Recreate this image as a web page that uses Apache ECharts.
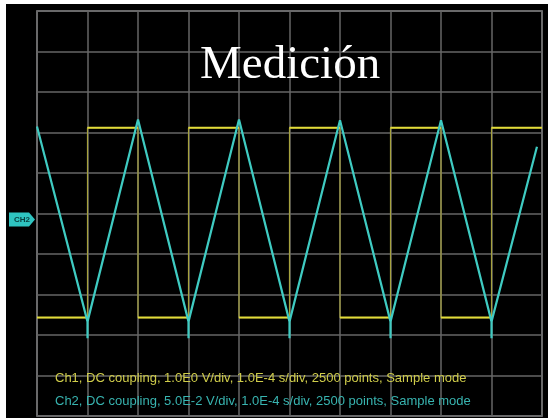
<!DOCTYPE html>
<html>
<head>
<meta charset="utf-8">
<script src="https://cdn.jsdelivr.net/npm/echarts@6/dist/echarts.min.js"></script>
<style>
  html, body { margin: 0; padding: 0; background: #fff; }
  #wrap { position: relative; width: 548px; height: 418px; overflow: hidden; }
  #chart { position: absolute; left: 6px; top: 4px; width: 542px; height: 414px; }
</style>
</head>
<body>
<div id="wrap"><div id="chart"></div></div>
<script>
// screen divisions (10 x 10)
const xDivs = [0, 10]
const yDivs = [-5, 5]

// Ch1: square wave, in divisions
const ch1Times = [0, 1, 1, 2, 2, 3, 3, 4, 4, 5, 5, 6, 6, 7, 7, 8, 8, 9, 9, 10]
const ch1Levels = [-2.57, -2.57, 2.12, 2.12, -2.57, -2.57, 2.12, 2.12, -2.57, -2.57,
  2.12, 2.12, -2.57, -2.57, 2.12, 2.12, -2.57, -2.57, 2.12, 2.12]

// Ch2: triangle wave, in divisions
const ch2Times = [0, 1, 1, 1, 2, 3, 3, 3, 4, 5, 5, 5, 6, 7, 7, 7, 8, 9, 9, 9, 9.9]
const ch2Levels = [2.15, -2.67, -3.08, -2.67, 2.32, -2.67, -3.08, -2.67, 2.32, -2.67,
  -3.08, -2.67, 2.3, -2.67, -3.08, -2.67, 2.3, -2.67, -3.08, -2.67, 1.65]
const ch2Ground = -0.15

const titleText = 'Medición'
const infoLines = [
  'Ch1, DC coupling, 1.0E0 V/div, 1.0E-4 s/div, 2500 points, Sample mode',
  'Ch2, DC coupling, 5.0E-2 V/div, 1.0E-4 s/div, 2500 points, Sample mode'
]

const ch1All = ch1Times.map((t, i) => [t, ch1Levels[i]])
// only the flat parts, edges get drawn dimmer underneath
const ch1Flat = []
for (let i = 1; i < ch1Times.length; i++) {
  if (ch1Times[i] !== ch1Times[i - 1]) {
    ch1Flat.push([ch1Times[i - 1], ch1Levels[i - 1]], [ch1Times[i], ch1Levels[i]], [null, null])
  }
}
const ch2All = ch2Times.map((t, i) => [t, ch2Levels[i]])

const chart = echarts.init(document.getElementById('chart'))

const tagPath = 'path://M0,0 L20,0 L26,7 L20,14 L0,14 Z'

chart.setOption({
  backgroundColor: '#000',
  animation: false,
  title: [
    {
      text: titleText,
      left: 189,
      top: 33,
      textStyle: { color: '#fff', fontFamily: 'Liberation Serif', fontSize: 47, fontWeight: 'normal' }
    },
    {
      text: infoLines[0],
      left: 44,
      top: 363,
      textStyle: { color: '#cfcc4a', fontFamily: 'Liberation Sans', fontSize: 13, fontWeight: 'normal' }
    },
    {
      text: infoLines[1],
      left: 44,
      top: 386,
      textStyle: { color: '#38b4b0', fontFamily: 'Liberation Sans', fontSize: 13, fontWeight: 'normal' }
    }
  ],
  grid: {
    left: 31, top: 7, width: 505, height: 405,
    show: true, borderColor: '#9a9a9e', borderWidth: 1.5
  },
  xAxis: {
    type: 'value', min: xDivs[0], max: xDivs[1], interval: 1,
    axisLine: { show: false }, axisTick: { show: false }, axisLabel: { show: false },
    splitLine: { lineStyle: { color: '#666', width: 1.5 } }
  },
  yAxis: {
    type: 'value', min: yDivs[0], max: yDivs[1], interval: 1,
    axisLine: { show: false }, axisTick: { show: false }, axisLabel: { show: false },
    splitLine: { lineStyle: { color: '#666', width: 1.5 } }
  },
  series: [
    {
      type: 'line', data: ch1All, symbol: 'none',
      lineStyle: { color: '#a6a23e', width: 1.2 }
    },
    {
      type: 'line', data: ch1Flat, symbol: 'none', connectNulls: false,
      lineStyle: { color: '#e2dc3a', width: 2 }
    },
    {
      type: 'line', data: ch2All, symbol: 'none',
      lineStyle: { color: '#3fcbc2', width: 2.2 },
      markPoint: {
        silent: true,
        symbol: tagPath,
        symbolSize: [26, 14],
        symbolOffset: [-15, 0],
        symbolKeepAspect: false,
        itemStyle: { color: '#2fc4c0' },
        label: {
          show: true, position: 'inside', formatter: 'CH2', color: '#08403f', fontSize: 8,
          fontWeight: 'bold', fontFamily: 'Liberation Sans'
        },
        data: [{ coord: [xDivs[0], ch2Ground] }]
      }
    }
  ]
})
</script>
</body>
</html>
